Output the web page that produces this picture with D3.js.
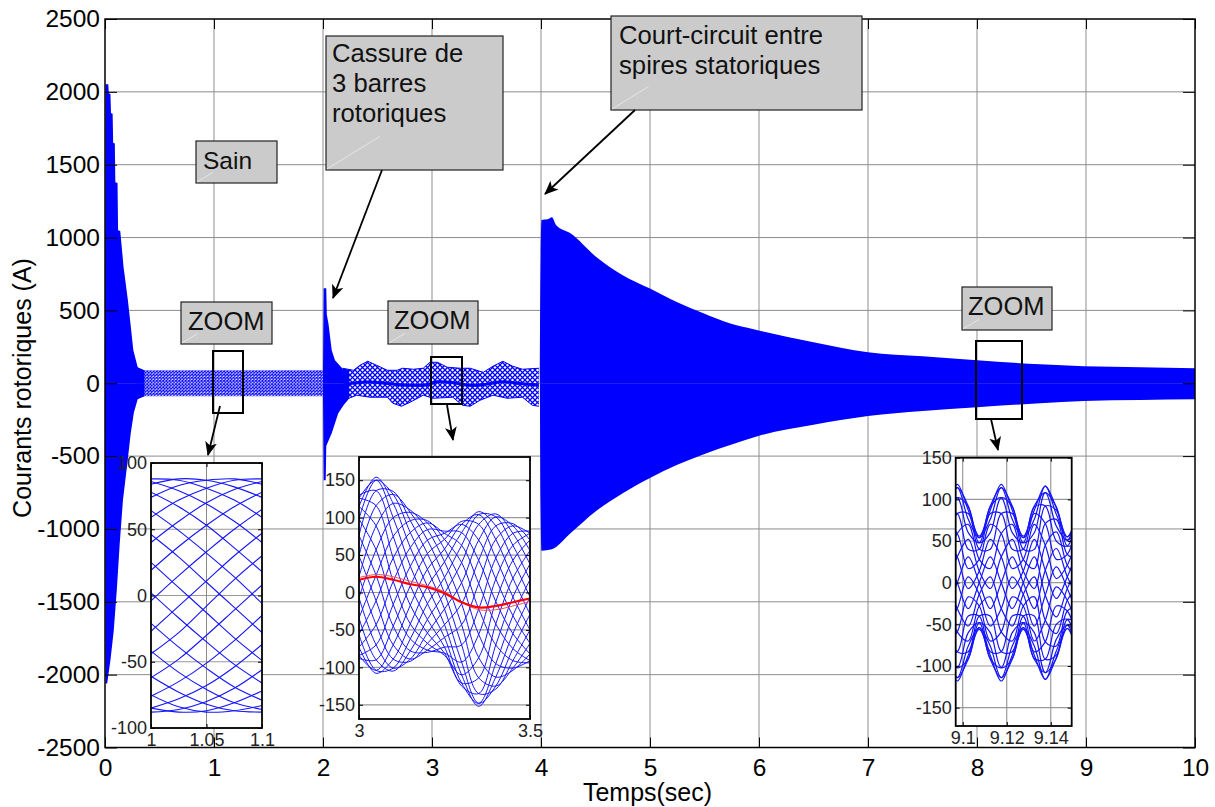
<!DOCTYPE html>
<html>
<head>
<meta charset="utf-8">
<script src="https://cdn.jsdelivr.net/npm/d3@7"></script>
<style>
  html, body { margin: 0; background: #fff; }
  svg { display: block; font-family: "Liberation Sans", Arial, sans-serif; }
</style>
</head>
<body>
<div id="chart"></div>
<script>
const width = 1215;
const height = 807;

// tick labels
const mainXTicks = [0, 1, 2, 3, 4, 5, 6, 7, 8, 9, 10];
const mainYTicks = [2500, 2000, 1500, 1000, 500, 0, -500, -1000, -1500, -2000, -2500];

const burstTop = [[0, 0], [0.004, 2053], [0.03, 2053], [0.035, 1990], [0.05, 1985], [0.055, 1854], [0.07, 1850], [0.075, 1650], [0.09, 1645], [0.095, 1380], [0.115, 1375], [0.12, 1050], [0.14, 1045], [0.17, 800], [0.21, 570], [0.235, 400], [0.26, 226], [0.3, 110], [0.36, 90]];
const burstBottom = [[0, 0], [0.004, -2060], [0.02, -2060], [0.05, -1900], [0.08, -1700], [0.11, -1400], [0.135, -1100], [0.165, -800], [0.205, -550], [0.235, -350], [0.265, -200], [0.3, -110], [0.36, -90]];
const healthyTop = [[0.28, 110], [0.36, 89], [2.0, 89]];
const healthyBottom = [[0.28, -110], [0.36, -90], [2.0, -90]];
const breakTop = [[2.0, 88], [2.006, 652], [2.03, 652], [2.035, 470], [2.05, 410], [2.08, 226], [2.11, 158], [2.18, 100], [2.24, 92]];
const breakBottom = [[2.0, -88], [2.006, -666], [2.025, -666], [2.03, -430], [2.08, -343], [2.14, -206], [2.19, -150], [2.24, -105]];
const beatTop = [[2.18, 103], [2.28, 89], [2.34, 124], [2.41, 151], [2.49, 124], [2.59, 89], [2.68, 89], [2.73, 103], [2.83, 96], [2.92, 103], [2.98, 144], [3.05, 144], [3.14, 110], [3.26, 103], [3.35, 103], [3.47, 75], [3.56, 117], [3.65, 151], [3.74, 117], [3.83, 96], [3.98, 103]];
const beatBottom = [[2.19, -117], [2.31, -82], [2.43, -96], [2.59, -96], [2.64, -137], [2.72, -158], [2.8, -130], [2.92, -82], [3.01, -103], [3.19, -96], [3.28, -151], [3.35, -158], [3.44, -117], [3.56, -82], [3.69, -103], [3.83, -96], [3.92, -151], [3.98, -158]];
const beatCentre = [[2.2, -8], [2.4, 8], [2.6, -2], [2.75, -12], [2.95, -10], [3.05, 10], [3.2, 4], [3.35, -14], [3.5, -6], [3.65, 10], [3.8, -2], [3.98, -12]];
const faultTop = [[3.99, 0], [3.995, 776], [4.005, 1120], [4.06, 1125], [4.1, 1140], [4.14, 1085], [4.27, 1030], [4.51, 865], [4.75, 742], [5, 650], [5.25, 556], [5.49, 480], [5.73, 412], [5.95, 371], [6.5, 281], [7, 213], [7.5, 185], [8, 158], [8.58, 130], [8.98, 117], [9.5, 110], [10, 103]];
const faultBottom = [[3.99, 0], [3.995, -800], [4.005, -1150], [4.1, -1140], [4.27, -1030], [4.5, -880], [4.75, -755], [5, -650], [5.25, -560], [5.5, -485], [5.75, -420], [6, -360], [6.5, -285], [7, -225], [7.5, -190], [8, -165], [8.58, -137], [8.98, -122], [9.5, -115], [10, -110]];

const zoom1Times = [1, 1.025, 1.05, 1.075, 1.1];
const zoom1Traces = [
  [-27, -8, 11, 30, 47], [-4, 15, 33, 50, 65], [19, 37, 53, 67, 78], [40, 56, 70, 80, 86],
  [59, 72, 81, 87, 88], [74, 83, 87, 88, 84], [84, 88, 87, 82, 74], [88, 87, 81, 72, 59],
  [86, 79, 69, 56, 40], [78, 67, 53, 36, 18], [64, 49, 32, 14, -6], [46, 29, 10, -9, -28],
  [25, 6, -13, -32, -49], [2, -17, -35, -52, -66], [-21, -39, -55, -69, -79], [-42, -58, -71, -81, -86],
  [-61, -73, -82, -87, -88], [-75, -84, -88, -87, -83], [-85, -88, -87, -81, -72], [-88, -86, -80, -70, -56],
  [-85, -78, -68, -54, -37], [-76, -65, -51, -34, -15], [-62, -48, -30, -11, 8], [-44, -28, -8, 12, 30]
];

// zoom 2 (t = 3 to 3.5). Envelope and peak spacing read from a crop; inner strands are a hand-worked fit, not followed one by one
const zoom2Times = [3, 3.05, 3.1, 3.15, 3.2, 3.25, 3.3, 3.35, 3.4, 3.45, 3.5];
const zoom2Traces = [
  [115, 154, 119, 60, 8, -43, -110, -152, -113, -55, -6],
  [98, 150, 131, 80, 31, -22, -93, -148, -125, -75, -29],
  [76, 136, 135, 96, 52, -1, -70, -135, -129, -91, -50],
  [49, 116, 131, 107, 70, 20, -43, -114, -125, -101, -68],
  [21, 89, 119, 110, 84, 41, -15, -87, -113, -104, -82],
  [-7, 57, 100, 107, 93, 58, 13, -56, -95, -101, -91],
  [-34, 23, 75, 96, 96, 71, 40, -22, -70, -91, -94],
  [-56, -11, 46, 80, 93, 79, 63, 12, -42, -75, -91],
  [-73, -43, 15, 60, 84, 82, 80, 43, -12, -55, -82],
  [-84, -70, -16, 35, 70, 79, 91, 70, 18, -31, -68],
  [-88, -90, -45, 9, 52, 71, 95, 91, 46, -6, -50],
  [-84, -104, -70, -17, 31, 58, 91, 104, 71, 19, -29],
  [-73, -108, -89, -42, 8, 41, 80, 108, 89, 43, -6],
  [-56, -104, -101, -62, -15, 20, 63, 104, 101, 63, 17],
  [-34, -90, -105, -78, -36, -1, 40, 91, 105, 79, 38],
  [-7, -70, -101, -89, -54, -22, 13, 70, 101, 89, 56],
  [21, -43, -89, -92, -68, -43, -15, 43, 89, 92, 70],
  [49, -11, -70, -89, -77, -60, -43, 12, 71, 89, 79],
  [76, 23, -45, -78, -80, -73, -70, -22, 46, 79, 82],
  [98, 57, -16, -62, -77, -81, -93, -56, 18, 63, 79],
  [115, 89, 15, -42, -68, -84, -110, -87, -12, 43, 70],
  [126, 116, 46, -17, -54, -81, -121, -114, -42, 19, 56],
  [130, 136, 75, 9, -36, -73, -125, -135, -70, -6, 38],
  [126, 150, 100, 35, -15, -60, -121, -148, -95, -31, 17]
];
const zoom2Red = [17, 21, 17, 11, 7, -1, -13, -20, -18, -13, -8];
const zoom2RedPale = [20, 24, 21, 15, 9, 1, -13, -23, -23, -18, -12];

// zoom 3 (t = 9.1 to 9.15). Envelope and lobes read from a crop; inner strands are a hand-worked fit, not followed one by one
const zoom3Times = [9.0925, 9.0975, 9.1025, 9.1075, 9.1125, 9.1175, 9.1225, 9.1275, 9.1325, 9.1375, 9.1425, 9.1475, 9.1525];
const zoom3Traces = [
  [-31, 0, 31, 0, -31, 0, 31, 0, -31, 15, 41, 7, -19],
  [-7, 31, 52, 14, -7, 31, 52, 14, -7, 45, 61, 21, 5],
  [17, 59, 70, 28, 17, 59, 70, 28, 17, 71, 76, 34, 28],
  [40, 83, 83, 40, 40, 83, 83, 40, 40, 92, 87, 44, 50],
  [60, 102, 91, 48, 60, 102, 91, 48, 60, 108, 91, 51, 68],
  [76, 114, 92, 54, 76, 114, 92, 54, 76, 116, 90, 55, 81],
  [87, 118, 87, 56, 87, 118, 87, 56, 87, 116, 82, 55, 89],
  [92, 114, 76, 54, 92, 114, 76, 54, 92, 108, 68, 51, 91],
  [91, 102, 60, 48, 91, 102, 60, 48, 91, 92, 50, 44, 87],
  [83, 83, 40, 40, 83, 83, 40, 40, 83, 71, 28, 34, 76],
  [70, 59, 17, 28, 70, 59, 17, 28, 70, 45, 5, 21, 61],
  [52, 31, -7, 14, 52, 31, -7, 14, 52, 15, -19, 7, 41],
  [31, 0, -31, 0, 31, 0, -31, 0, 31, -15, -41, -7, 19],
  [7, -31, -52, -14, 7, -31, -52, -14, 7, -45, -61, -21, -5],
  [-17, -59, -70, -28, -17, -59, -70, -28, -17, -71, -76, -34, -28],
  [-40, -83, -83, -40, -40, -83, -83, -40, -40, -92, -87, -44, -50],
  [-60, -102, -91, -48, -60, -102, -91, -48, -60, -108, -91, -51, -68],
  [-76, -114, -92, -54, -76, -114, -92, -54, -76, -116, -90, -55, -81],
  [-87, -118, -87, -56, -87, -118, -87, -56, -87, -116, -82, -55, -89],
  [-92, -114, -76, -54, -92, -114, -76, -54, -92, -108, -68, -51, -91],
  [-91, -102, -60, -48, -91, -102, -60, -48, -91, -92, -50, -44, -87],
  [-83, -83, -40, -40, -83, -83, -40, -40, -83, -71, -28, -34, -76],
  [-70, -59, -17, -28, -70, -59, -17, -28, -70, -45, -5, -21, -61],
  [-52, -31, 7, -14, -52, -31, 7, -14, -52, -15, 19, -7, -41]
];

const blue = "#0000ff";
const x = d3.scaleLinear().domain([0, 10]).range([105, 1195]);
const y = d3.scaleLinear().domain([-2500, 2500]).range([747.5, 19]);

const svg = d3.select("#chart").append("svg")
  .attr("width", width)
  .attr("height", height);

const defs = svg.append("defs");

function addMesh(id, size, strokeWidth) {
  const p = defs.append("pattern")
    .attr("id", id)
    .attr("width", size)
    .attr("height", size)
    .attr("patternUnits", "userSpaceOnUse");
  p.append("rect").attr("width", size).attr("height", size).attr("fill", "#fff");
  p.append("path")
    .attr("d", `M0,0L${size},${size}M${size},0L0,${size}`)
    .attr("stroke", blue)
    .attr("stroke-width", strokeWidth);
}
addMesh("meshFine", 3.2, 1);
addMesh("meshBeat", 5, 1.25);

const arrowHead = defs.append("marker")
  .attr("id", "arrowHead")
  .attr("viewBox", "0 0 14 12")
  .attr("refX", 13)
  .attr("refY", 6)
  .attr("markerWidth", 14)
  .attr("markerHeight", 12)
  .attr("markerUnits", "userSpaceOnUse")
  .attr("orient", "auto");
arrowHead.append("path").attr("d", "M0,0L14,6L0,12L3.5,6Z").attr("fill", "#000");

// grid
const grid = svg.append("g");
grid.selectAll(".gx").data(mainXTicks.slice(1, -1)).join("line")
  .attr("x1", d => x(d)).attr("x2", d => x(d))
  .attr("y1", y(2500)).attr("y2", y(-2500))
  .attr("stroke", "#b4b4b4").attr("stroke-width", 1.5);
grid.selectAll(".gy").data(mainYTicks.slice(1, -1)).join("line")
  .attr("x1", x(0)).attr("x2", x(10))
  .attr("y1", d => y(d)).attr("y2", d => y(d))
  .attr("stroke", "#8c8c8c").attr("stroke-width", 1);

// main trace
const envelope = d3.area()
  .x(d => x(d[0]))
  .y0(y(0))
  .y1(d => y(d[1]));
const smoothEnvelope = d3.area()
  .curve(d3.curveMonotoneX)
  .x(d => x(d[0]))
  .y0(y(0))
  .y1(d => y(d[1]));
const mainLayer = svg.append("g");
[[healthyTop, "url(#meshFine)"], [healthyBottom, "url(#meshFine)"],
 [beatTop, "url(#meshBeat)"], [beatBottom, "url(#meshBeat)"],
 [burstTop, blue], [burstBottom, blue],
 [breakTop, blue], [breakBottom, blue]].forEach(([rows, fill]) => {
  mainLayer.append("path").datum(rows).attr("fill", fill).attr("d", envelope);
});
[faultTop, faultBottom].forEach(rows => {
  mainLayer.append("path").datum(rows).attr("fill", blue).attr("d", smoothEnvelope);
});
[beatTop, beatBottom].forEach(rows => {
  mainLayer.append("path").datum(rows)
    .attr("fill", "none")
    .attr("stroke", blue)
    .attr("stroke-width", 1)
    .attr("d", d3.line().x(d => x(d[0])).y(d => y(d[1])));
});
mainLayer.append("path").datum(beatCentre)
  .attr("fill", "none")
  .attr("stroke", blue)
  .attr("stroke-width", 3)
  .attr("d", d3.line().curve(d3.curveCatmullRom).x(d => x(d[0])).y(d => y(d[1])));

// frame, ticks and labels
svg.append("rect")
  .attr("x", x(0)).attr("y", y(2500))
  .attr("width", x(10) - x(0)).attr("height", y(-2500) - y(2500))
  .attr("fill", "none").attr("stroke", "#000").attr("stroke-width", 1.5);

const xAxisBottom = svg.append("g")
  .attr("transform", `translate(0,${y(-2500)})`)
  .call(d3.axisBottom(x).tickValues(mainXTicks).tickSize(-10).tickPadding(11).tickFormat(String))
  .call(g => g.select(".domain").remove());
xAxisBottom.selectAll("text").attr("font-size", 24.5).attr("fill", "#000");
svg.append("g")
  .attr("transform", `translate(0,${y(2500)})`)
  .call(d3.axisTop(x).tickValues(mainXTicks).tickSize(-10).tickFormat(""))
  .call(g => g.select(".domain").remove());

const yAxisLeft = svg.append("g")
  .attr("transform", `translate(${x(0)},0)`)
  .call(d3.axisLeft(y).tickValues(mainYTicks).tickSize(-12).tickPadding(5).tickFormat(String))
  .call(g => g.select(".domain").remove());
yAxisLeft.selectAll("text").attr("font-size", 24.5).attr("fill", "#000");
svg.append("g")
  .attr("transform", `translate(${x(10)},0)`)
  .call(d3.axisRight(y).tickValues(mainYTicks).tickSize(-12).tickFormat(""))
  .call(g => g.select(".domain").remove());

svg.append("text")
  .attr("x", 647.5).attr("y", 801)
  .attr("text-anchor", "middle")
  .attr("font-size", 25)
  .text("Temps(sec)");
svg.append("text")
  .attr("transform", "translate(31,388) rotate(-90)")
  .attr("text-anchor", "middle")
  .attr("font-size", 25)
  .text("Courants rotoriques (A)");

// zoom windows on the main trace
[[213, 351, 30, 62], [431, 357, 31, 47], [976, 341, 46, 78]].forEach(r => {
  svg.append("rect")
    .attr("x", r[0]).attr("y", r[1]).attr("width", r[2]).attr("height", r[3])
    .attr("fill", "none").attr("stroke", "#000").attr("stroke-width", 2);
});

// annotation boxes
const boxes = [
  {x: 196, y: 141, w: 81, h: 42, lines: ["Sain"], tx: 203, ty: 169, size: 24.5},
  {x: 326, y: 36, w: 177, h: 134, lines: ["Cassure de", "3 barres", "rotoriques"], tx: 332, ty: 62, size: 25.7},
  {x: 611, y: 16, w: 251, h: 94, lines: ["Court-circuit entre", "spires statoriques"], tx: 619, ty: 44, size: 25.7},
  {x: 181, y: 302, w: 91, h: 42, lines: ["ZOOM"], tx: 188, ty: 330, size: 25.5},
  {x: 388, y: 301, w: 90, h: 43, lines: ["ZOOM"], tx: 394, ty: 329, size: 25.5},
  {x: 962, y: 287, w: 90, h: 43, lines: ["ZOOM"], tx: 968, ty: 315, size: 25.5}
];
boxes.forEach(b => {
  svg.append("rect")
    .attr("x", b.x).attr("y", b.y).attr("width", b.w).attr("height", b.h)
    .attr("fill", "#cbcbcb").attr("stroke", "#222").attr("stroke-width", 1.2);
  svg.append("line")
    .attr("x1", b.x + 1).attr("y1", b.y + b.h - 1)
    .attr("x2", b.x + Math.min(b.w, b.h) * 0.4).attr("y2", b.y + b.h - Math.min(b.w, b.h) * 0.25)
    .attr("stroke", "#e6e6e6").attr("stroke-width", 1);
  b.lines.forEach((t, i) => {
    svg.append("text")
      .attr("x", b.tx).attr("y", b.ty + i * 30)
      .attr("font-size", b.size)
      .attr("fill", "#111")
      .text(t);
  });
});

// insets
function drawInset(o) {
  const ix = d3.scaleLinear().domain(o.xDomain).range(o.xRange);
  const iy = d3.scaleLinear().domain(o.yDomain).range(o.yRange);
  const g = svg.append("g");
  const left = o.xRange[0], right = o.xRange[1], bottom = o.yRange[0], top = o.yRange[1];

  g.append("rect")
    .attr("x", left).attr("y", top)
    .attr("width", right - left).attr("height", bottom - top)
    .attr("fill", "#fff");
  g.selectAll(".gh").data(o.yTicks).join("line")
    .attr("x1", left).attr("x2", right)
    .attr("y1", d => iy(d)).attr("y2", d => iy(d))
    .attr("stroke", "#999").attr("stroke-width", 1.2);
  g.selectAll(".gv").data(o.gridX).join("line")
    .attr("x1", d => ix(d)).attr("x2", d => ix(d))
    .attr("y1", top).attr("y2", bottom)
    .attr("stroke", "#888").attr("stroke-width", 1);

  defs.append("clipPath").attr("id", o.id)
    .append("rect")
    .attr("x", left).attr("y", top)
    .attr("width", right - left).attr("height", bottom - top);

  const line = d3.line()
    .curve(d3.curveCatmullRom)
    .x((d, i) => ix(o.times[i]))
    .y(d => iy(d));
  const plot = g.append("g").attr("clip-path", `url(#${o.id})`);
  plot.selectAll(".trace").data(o.traces).join("path")
    .attr("fill", "none")
    .attr("stroke", "#1414ff")
    .attr("stroke-width", o.traceWidth)
    .attr("d", line);
  if (o.redPale) {
    plot.append("path").datum(o.redPale)
      .attr("fill", "none").attr("stroke", "#ff5050").attr("stroke-width", 1).attr("d", line);
    plot.append("path").datum(o.red)
      .attr("fill", "none").attr("stroke", "#ff0000").attr("stroke-width", 2.2).attr("d", line);
  }

  g.append("rect")
    .attr("x", left).attr("y", top)
    .attr("width", right - left).attr("height", bottom - top)
    .attr("fill", "none").attr("stroke", "#000").attr("stroke-width", 1.8);

  const yAxis = g.append("g")
    .attr("transform", `translate(${left},0)`)
    .call(d3.axisLeft(iy).tickValues(o.yTicks).tickSize(-4).tickPadding(4).tickFormat(String))
    .call(s => s.select(".domain").remove());
  yAxis.selectAll("text").attr("font-size", 18).attr("fill", "#222");
  g.append("g")
    .attr("transform", `translate(${right},0)`)
    .call(d3.axisRight(iy).tickValues(o.yTicks).tickSize(-4).tickFormat(""))
    .call(s => s.select(".domain").remove());

  const xAxis = g.append("g")
    .attr("transform", `translate(0,${bottom})`)
    .call(d3.axisBottom(ix).tickValues(o.xTicks).tickSize(-4).tickPadding(5).tickFormat(String))
    .call(s => s.select(".domain").remove());
  xAxis.selectAll("text").attr("font-size", 18).attr("fill", "#222");
  g.append("g")
    .attr("transform", `translate(0,${top})`)
    .call(d3.axisTop(ix).tickValues(o.xTicks).tickSize(-4).tickFormat(""))
    .call(s => s.select(".domain").remove());
}

drawInset({
  id: "clipZoom1", xDomain: [1, 1.1], xRange: [151, 262], yDomain: [-100, 100], yRange: [728, 463],
  xTicks: [1, 1.05, 1.1], gridX: [1.05], yTicks: [100, 50, 0, -50, -100],
  times: zoom1Times, traces: zoom1Traces, traceWidth: 1.1
});
drawInset({
  id: "clipZoom2", xDomain: [3, 3.5], xRange: [359, 530], yDomain: [-169, 181], yRange: [719, 457],
  xTicks: [3, 3.5], gridX: [], yTicks: [150, 100, 50, 0, -50, -100, -150],
  times: zoom2Times, traces: zoom2Traces, traceWidth: 1,
  red: zoom2Red, redPale: zoom2RedPale
});
drawInset({
  id: "clipZoom3", xDomain: [9.0968, 9.1495], xRange: [955.7, 1071.7], yDomain: [-172, 150], yRange: [726, 457.7],
  xTicks: [9.1, 9.12, 9.14], gridX: [9.1, 9.12, 9.14], yTicks: [150, 100, 50, 0, -50, -100, -150],
  times: zoom3Times, traces: zoom3Traces, traceWidth: 1.2
});

// arrows
[[382, 170, 333, 298], [635, 110, 545, 194], [220, 406, 208, 455], [447, 405, 453, 440], [991, 419, 998, 450]].forEach(a => {
  svg.append("line")
    .attr("x1", a[0]).attr("y1", a[1]).attr("x2", a[2]).attr("y2", a[3])
    .attr("stroke", "#000").attr("stroke-width", 1.8)
    .attr("marker-end", "url(#arrowHead)");
});
</script>
</body>
</html>
